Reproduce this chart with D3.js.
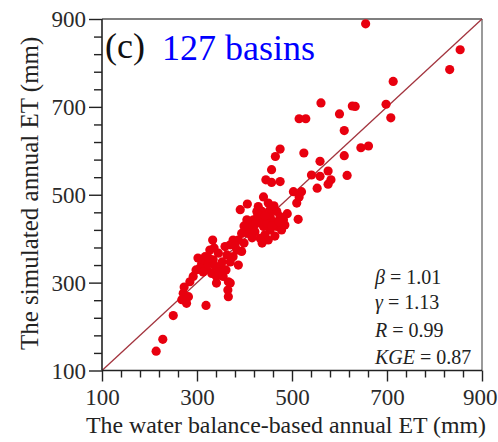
<!DOCTYPE html>
<html>
<head>
<meta charset="utf-8">
<script src="https://cdn.jsdelivr.net/npm/d3@7"></script>
<style>
  body { margin: 0; background: #fff; }
  svg { display: block; font-family: "Liberation Serif", "Times New Roman", serif; }
</style>
</head>
<body>
<div id="vis"></div>
<script>
// water balance-based ET (x) vs simulated ET (y), mm, one point per basin
const xObs = [655, 854, 832, 713, 561, 627, 633, 698, 600, 708, 515, 529, 610, 645, 661, 610,
  475, 465, 525, 559, 457, 445, 457, 475, 541, 559, 576, 582, 576, 553, 616, 503, 520, 515, 510,
  513, 440, 429, 450, 406, 391, 426, 437, 454, 468, 475, 482, 468, 478, 454, 440, 433, 419, 412,
  401, 394, 408, 422, 433, 454, 461, 447, 405, 464, 443, 333, 376, 387, 370, 359, 384, 394, 376,
  387, 327, 317, 310, 324, 334, 345, 320, 306, 331, 341, 355, 352, 366, 370, 341, 292, 285, 366,
  271, 282, 278, 268, 319, 250, 228, 214, 428, 443, 458, 473, 416, 450, 399, 485, 437, 363, 353,
  338, 313, 298, 336, 370, 399, 325, 346, 361, 380, 273, 302, 424, 462, 490, 365];
const ySim = [889, 830, 785, 758, 709, 702, 701, 706, 684, 675, 673, 673, 646, 607, 611, 589,
  604, 587, 595, 576, 557, 534, 528, 530, 545, 542, 554, 534, 524, 515, 544, 507, 507, 495, 481,
  444, 495, 473, 481, 479, 466, 462, 462, 466, 462, 450, 443, 428, 420, 420, 428, 443, 443, 428,
  420, 412, 412, 416, 401, 450, 439, 435, 443, 406, 409, 397, 397, 397, 386, 382, 374, 371, 359,
  340, 374, 359, 344, 344, 352, 367, 333, 333, 321, 314, 314, 333, 302, 299, 299, 314, 302, 268,
  276, 268, 253, 261, 248, 225, 171, 144, 454, 452, 429, 438, 402, 397, 429, 431, 390, 363, 347,
  338, 324, 329, 379, 347, 390, 356, 324, 329, 384, 290, 356, 434, 475, 457, 283];

const TICKS_MAJOR = [100, 300, 500, 700, 900];
const TICKS_MINOR = [140, 180, 220, 260, 340, 380, 420, 460, 540, 580, 620, 660, 740, 780, 820, 860];
const DOMAIN = [100, 900];

const STATS = [
  { sym: "β", val: " = 1.01" },
  { sym: "γ", val: " = 1.13" },
  { sym: "R", val: " = 0.99" },
  { sym: "KGE", val: " = 0.87" }
];

const WIDTH = 498;
const HEIGHT = 442;
const MARGIN = { top: 19, right: 16, bottom: 71.5, left: 102 };

const SVG = d3.select("#vis").append("svg")
  .attr("width", WIDTH)
  .attr("height", HEIGHT);

SVG.append("rect").attr("width", WIDTH).attr("height", HEIGHT).attr("fill", "#fff");

const escalaX = d3.scaleLinear().domain(DOMAIN).range([MARGIN.left, WIDTH - MARGIN.right]);
const escalaY = d3.scaleLinear().domain(DOMAIN).range([HEIGHT - MARGIN.bottom, MARGIN.top]);

const x0 = escalaX(DOMAIN[0]), x1 = escalaX(DOMAIN[1]);
const y0 = escalaY(DOMAIN[0]), y1 = escalaY(DOMAIN[1]);

// marco: arriba gris oscuro, derecha gris claro
SVG.append("line")
  .attr("x1", x0).attr("x2", x1).attr("y1", y1).attr("y2", y1)
  .attr("stroke", "#555").attr("stroke-width", 1.6);
SVG.append("line")
  .attr("x1", x1).attr("x2", x1).attr("y1", y1).attr("y2", y0)
  .attr("stroke", "#9a9a9a").attr("stroke-width", 2);

// linea 1:1
SVG.append("line")
  .attr("x1", escalaX(DOMAIN[0])).attr("y1", escalaY(DOMAIN[0]))
  .attr("x2", escalaX(DOMAIN[1])).attr("y2", escalaY(DOMAIN[1]))
  .attr("stroke", "#a3343e").attr("stroke-width", 1.3);

// puntos
const puntos = xObs.map((d, i) => ({ x: d, y: ySim[i] }));
SVG.append("g")
  .selectAll("circle")
  .data(puntos)
  .join("circle")
  .attr("cx", d => escalaX(d.x))
  .attr("cy", d => escalaY(d.y))
  .attr("r", 4.6)
  .attr("fill", "#e8000f");

// ejes
const ejeXMinor = d3.axisBottom(escalaX).tickValues(TICKS_MINOR).tickSize(7).tickFormat("");
const ejeXMajor = d3.axisBottom(escalaX).tickValues(TICKS_MAJOR).tickSize(11).tickPadding(7).tickFormat(d3.format("d"));
const ejeYMinor = d3.axisLeft(escalaY).tickValues(TICKS_MINOR).tickSize(8).tickFormat("");
const ejeYMajor = d3.axisLeft(escalaY).tickValues(TICKS_MAJOR).tickSize(13).tickPadding(3).tickFormat(d3.format("d"));

function estiloEje(g) {
  g.select(".domain").remove();
  g.selectAll(".tick line").attr("stroke", "#222").attr("stroke-width", 1.4);
  g.selectAll(".tick text")
    .attr("fill", "#2a2a2a")
    .attr("font-family", "'Liberation Serif', serif")
    .attr("font-size", 23);
}

SVG.append("g").attr("transform", `translate(0,${y0})`).call(ejeXMinor).call(estiloEje);
const gXMajor = SVG.append("g").attr("transform", `translate(0,${y0})`).call(ejeXMajor).call(estiloEje);
SVG.append("g").attr("transform", `translate(${x0},0)`).call(ejeYMinor).call(estiloEje);
const gYMajor = SVG.append("g").attr("transform", `translate(${x0},0)`).call(ejeYMajor).call(estiloEje);

gXMajor.selectAll(".tick text").attr("dy", "0.71em");
gYMajor.selectAll(".tick text").attr("dy", "0.34em");

// el ultimo rotulo del eje x queda pegado al borde derecho
gXMajor.selectAll(".tick text")
  .filter(d => d === DOMAIN[1])
  .attr("text-anchor", "end")
  .attr("x", WIDTH - 1 - x1);

// ejes principales
SVG.append("line")
  .attr("x1", x0).attr("x2", x1).attr("y1", y0).attr("y2", y0)
  .attr("stroke", "#222").attr("stroke-width", 1.6);
SVG.append("line")
  .attr("x1", x0).attr("x2", x0).attr("y1", y1).attr("y2", y0)
  .attr("stroke", "#222").attr("stroke-width", 1.6);

// titulos
SVG.append("text")
  .attr("x", 86).attr("y", 433)
  .attr("font-size", 24).attr("fill", "#222")
  .attr("textLength", 400).attr("lengthAdjust", "spacingAndGlyphs")
  .text("The water balance-based annual ET (mm)");

SVG.append("text")
  .attr("transform", `translate(38,350) rotate(-90)`)
  .attr("font-size", 25).attr("fill", "#222")
  .text("The simulated annual ET (mm)");

SVG.append("text")
  .attr("x", 105).attr("y", 58)
  .attr("font-size", 36).attr("fill", "#111")
  .text("(c)");

SVG.append("text")
  .attr("x", 162).attr("y", 60)
  .attr("font-size", 36).attr("fill", "#0000ff")
  .text("127 basins");

// estadisticos
const BASES = [284, 309, 337, 364];
const stats = SVG.append("g");
STATS.forEach((s, i) => {
  const t = stats.append("text")
    .attr("x", 375).attr("y", BASES[i])
    .attr("font-size", 20).attr("fill", "#222");
  t.append("tspan").attr("font-style", "italic").text(s.sym);
  t.append("tspan").text(s.val);
});
</script>
</body>
</html>
